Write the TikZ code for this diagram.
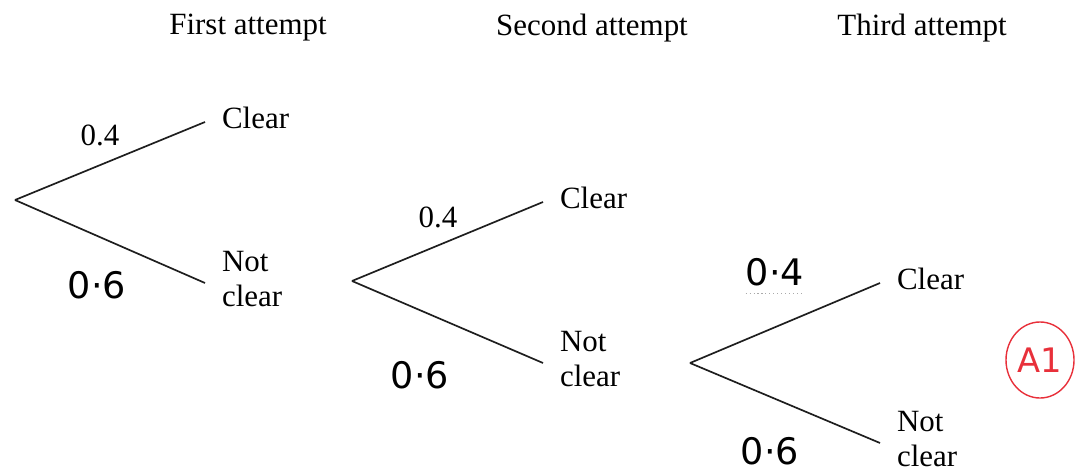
\documentclass[tikz,border=0pt]{standalone}
\usepackage{fontspec}
\setmainfont{Liberation Serif}
\newfontfamily\handfont{DejaVu Sans}
\usetikzlibrary{shapes.geometric, positioning}
\definecolor{inkgray}{HTML}{1E1E1E}
\definecolor{markred}{HTML}{E8303A}
\definecolor{dotgray}{HTML}{AAAAAA}
\tikzset{
  branch/.style={line width=1.2pt, inkgray},
  heading/.style={font=\fontsize{22}{26}\selectfont, inner sep=0pt},
  outcome/.style={align=left, font=\fontsize{22}{25}\selectfont, inner sep=0pt},
  prob/.style={font=\fontsize{22}{26}\selectfont, inner sep=0pt},
  hand/.style={font=\handfont\fontsize{26}{28}\selectfont, inner sep=0pt},
  examiner/.style={ellipse, draw=markred, line width=1pt, text=markred,
    font=\handfont\fontsize{24}{26}\selectfont, minimum width=1.7cm,
    minimum height=1.9cm, inner sep=0pt},
}
\begin{document}
\begin{tikzpicture}[x=0.025cm, y=-0.025cm]
  \useasboundingbox (0,0) rectangle (1083,473);

  \node[heading] (first) at (248,28) {First attempt};
  \node[heading] (second) at (592,28) {Second attempt};
  \node[heading] (third) at (922,28) {Third attempt};

  % first attempt
  \coordinate (r1) at (15,200);
  \coordinate (e1c) at (205,122);
  \coordinate (e1n) at (205,283);
  \node[outcome, right=0.42cm of e1c, yshift=3pt] (c1) {Clear};
  \node[outcome, right=0.42cm of e1n, yshift=3pt] (n1) {Not\\clear};
  \draw[branch] (r1) -- (e1c);
  \draw[branch] (r1) -- (e1n);
  \node[prob] (p1c) at (100,135) {0.4};
  \node[hand] (p1n) at (97,285) {0·6};

  % second attempt
  \coordinate (r2) at (352,281);
  \coordinate (e2c) at (543,202);
  \coordinate (e2n) at (543,363);
  \node[outcome, right=0.42cm of e2c, yshift=3pt] (c2) {Clear};
  \node[outcome, right=0.42cm of e2n, yshift=3pt] (n2) {Not\\clear};
  \draw[branch] (r2) -- (e2c);
  \draw[branch] (r2) -- (e2n);
  \node[prob] (p2c) at (438,217) {0.4};
  \node[hand] (p2n) at (420,375) {0·6};

  % third attempt
  \coordinate (r3) at (690,363);
  \coordinate (e3c) at (880,283);
  \coordinate (e3n) at (880,443);
  \node[outcome, right=0.42cm of e3c, yshift=3pt] (c3) {Clear};
  \node[outcome, right=0.42cm of e3n, yshift=3pt] (n3) {Not\\clear};
  \draw[branch] (r3) -- (e3c);
  \draw[branch] (r3) -- (e3n);
  \node[hand] (p3c) at (775,272) {0·4};
  \draw[dotgray, dotted, line width=0.8pt] ([yshift=-5pt]p3c.south west) -- ([yshift=-5pt]p3c.south east);
  \node[hand] (p3n) at (770,451) {0·6};

  \node[examiner] (mark1) at (1040,360) {A1};
\end{tikzpicture}
\end{document}
